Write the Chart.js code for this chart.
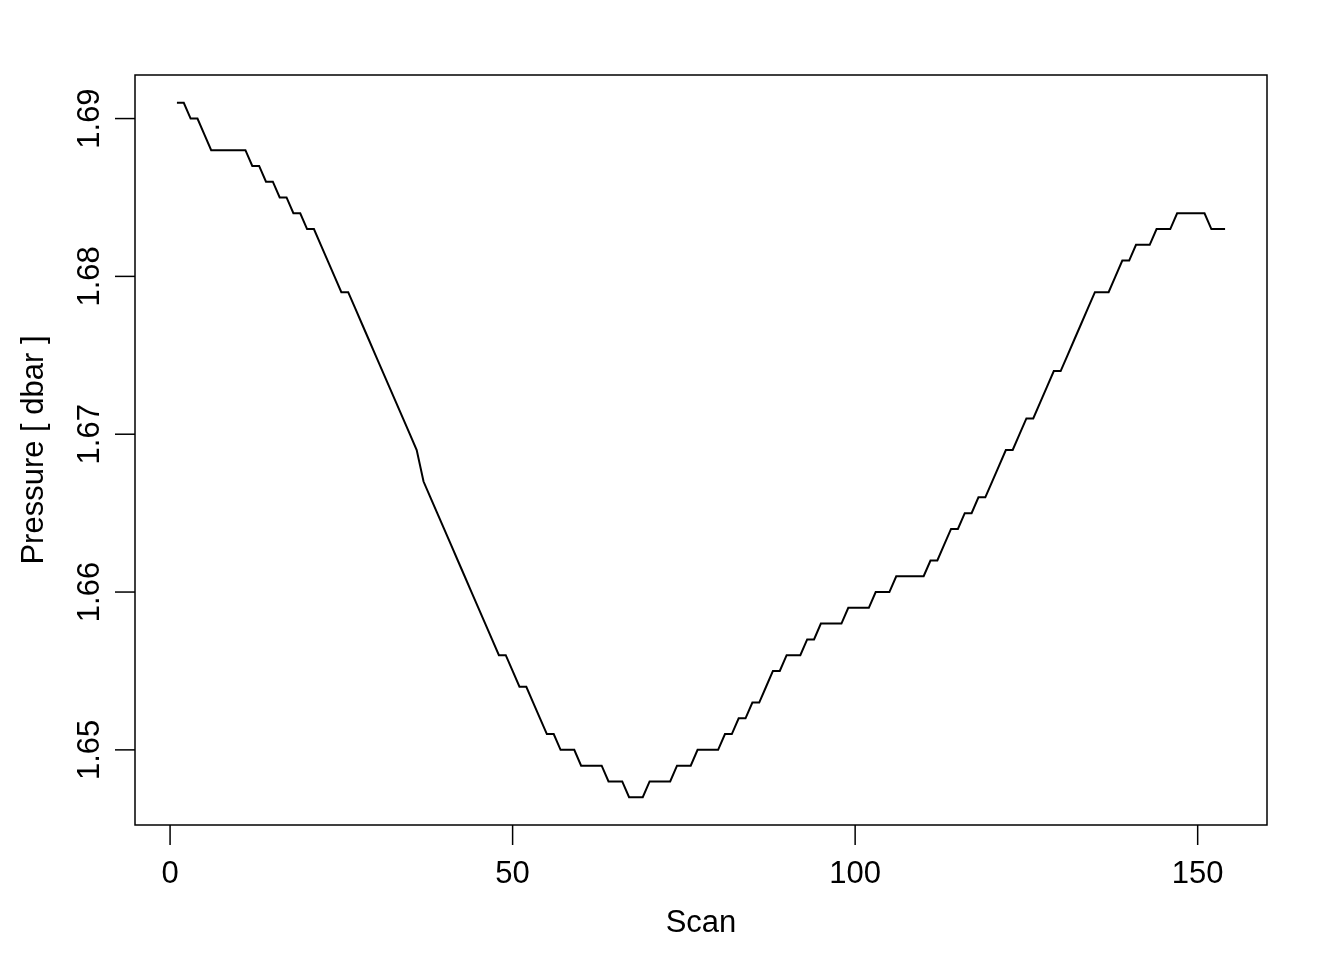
<!DOCTYPE html>
<html>
<head>
<meta charset="utf-8">
<script src="https://cdn.jsdelivr.net/npm/chart.js@4/dist/chart.umd.min.js"></script>
<style>
  html, body { margin: 0; padding: 0; background: #fff; }
  #wrap { width: 1344px; height: 960px; }
</style>
</head>
<body>
<div id="wrap"><canvas id="pressureChart" width="1344" height="960"></canvas></div>
<script>
// pressure per scan (scans 1..154)
const scans = Array.from({ length: 154 }, (_, i) => i + 1);
const pressure = [
    1.691, 1.691, 1.690, 1.690, 1.689, 1.688, 1.688, 1.688, 1.688, 1.688,
    1.688, 1.687, 1.687, 1.686, 1.686, 1.685, 1.685, 1.684, 1.684, 1.683,
    1.683, 1.682, 1.681, 1.680, 1.679, 1.679, 1.678, 1.677, 1.676, 1.675,
    1.674, 1.673, 1.672, 1.671, 1.670, 1.669, 1.667, 1.666, 1.665, 1.664,
    1.663, 1.662, 1.661, 1.660, 1.659, 1.658, 1.657, 1.656, 1.656, 1.655,
    1.654, 1.654, 1.653, 1.652, 1.651, 1.651, 1.650, 1.650, 1.650, 1.649,
    1.649, 1.649, 1.649, 1.648, 1.648, 1.648, 1.647, 1.647, 1.647, 1.648,
    1.648, 1.648, 1.648, 1.649, 1.649, 1.649, 1.650, 1.650, 1.650, 1.650,
    1.651, 1.651, 1.652, 1.652, 1.653, 1.653, 1.654, 1.655, 1.655, 1.656,
    1.656, 1.656, 1.657, 1.657, 1.658, 1.658, 1.658, 1.658, 1.659, 1.659,
    1.659, 1.659, 1.660, 1.660, 1.660, 1.661, 1.661, 1.661, 1.661, 1.661,
    1.662, 1.662, 1.663, 1.664, 1.664, 1.665, 1.665, 1.666, 1.666, 1.667,
    1.668, 1.669, 1.669, 1.670, 1.671, 1.671, 1.672, 1.673, 1.674, 1.674,
    1.675, 1.676, 1.677, 1.678, 1.679, 1.679, 1.679, 1.680, 1.681, 1.681,
    1.682, 1.682, 1.682, 1.683, 1.683, 1.683, 1.684, 1.684, 1.684, 1.684,
    1.684, 1.683, 1.683, 1.683
];
const xTicks = [0, 50, 100, 150];
const yTicks = [1.65, 1.66, 1.67, 1.68, 1.69];
const xTitle = 'Scan';
const yTitle = 'Pressure [ dbar ]';

// R-style axis range: data range padded by 4% on each side
function padRange(vals) {
    const lo = Math.min(...vals), hi = Math.max(...vals);
    const d = (hi - lo) * 0.04;
    return [lo - d, hi + d];
}
const [xMin, xMax] = padRange(scans);
const [yMin, yMax] = padRange(pressure);

const FONT = '31px "Liberation Sans", Arial, sans-serif';

// box, ticks and labels in base-graphics style
const rAxes = {
    id: 'rAxes',
    afterDraw(chart) {
        const { ctx, chartArea: a } = chart;
        const xs = chart.scales.x, ys = chart.scales.y;
        ctx.save();
        ctx.strokeStyle = '#000';
        ctx.fillStyle = '#000';
        ctx.lineWidth = 1.5;
        ctx.strokeRect(a.left, a.top, a.right - a.left, a.bottom - a.top);

        ctx.font = FONT;
        ctx.textAlign = 'center';
        ctx.textBaseline = 'alphabetic';

        // x axis
        xTicks.forEach(v => {
            const px = xs.getPixelForValue(v);
            ctx.beginPath();
            ctx.moveTo(px, a.bottom);
            ctx.lineTo(px, a.bottom + 20);
            ctx.stroke();
            ctx.fillText(String(v), px, 883);
        });
        ctx.fillText(xTitle, (a.left + a.right) / 2, 932);

        // y axis, labels parallel to the axis
        yTicks.forEach(v => {
            const py = ys.getPixelForValue(v);
            ctx.beginPath();
            ctx.moveTo(a.left, py);
            ctx.lineTo(a.left - 20, py);
            ctx.stroke();
            ctx.save();
            ctx.translate(99, py);
            ctx.rotate(-Math.PI / 2);
            ctx.fillText(v.toFixed(2), 0, 0);
            ctx.restore();
        });
        ctx.save();
        ctx.translate(43, (a.top + a.bottom) / 2);
        ctx.rotate(-Math.PI / 2);
        ctx.fillText(yTitle, 0, 0);
        ctx.restore();
        ctx.restore();
    }
};

const ctx = document.getElementById('pressureChart').getContext('2d');
new Chart(ctx, {
    type: 'line',
    data: {
        datasets: [{
            label: 'Pressure',
            data: scans.map((s, i) => ({ x: s, y: pressure[i] })),
            borderColor: '#000',
            borderWidth: 2,
            pointRadius: 0,
            tension: 0,
            fill: false
        }]
    },
    options: {
        responsive: false,
        animation: false,
        layout: { padding: { left: 135, right: 77, top: 75, bottom: 135 } },
        plugins: { legend: { display: false }, tooltip: { enabled: false } },
        scales: {
            x: { type: 'linear', min: xMin, max: xMax, display: false },
            y: { type: 'linear', min: yMin, max: yMax, display: false }
        }
    },
    plugins: [rAxes]
});
</script>
</body>
</html>
